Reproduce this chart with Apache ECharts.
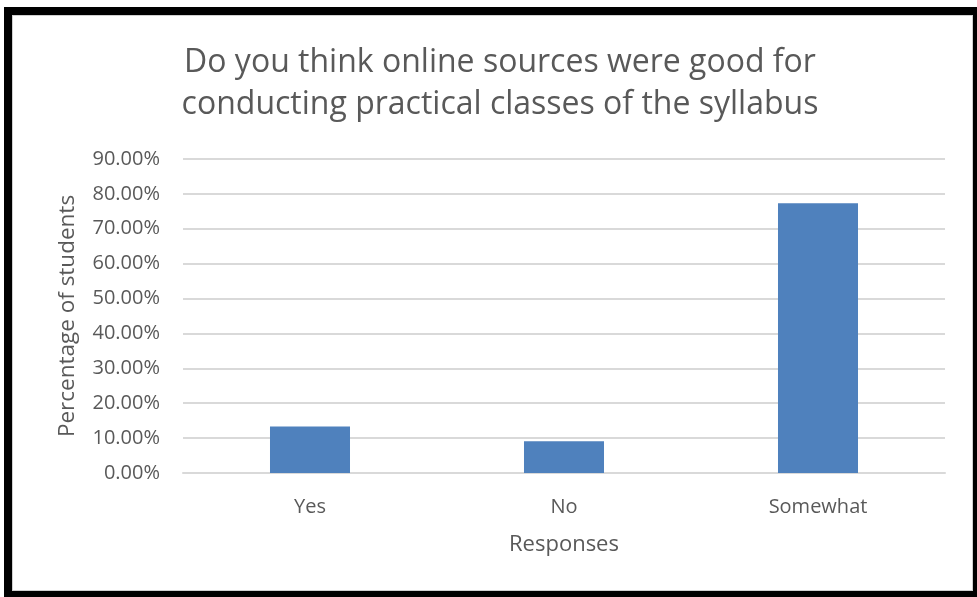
<!DOCTYPE html>
<html>
<head>
<meta charset="utf-8">
<script src="https://cdn.jsdelivr.net/npm/echarts@6/dist/echarts.min.js"></script>
<style>
html,body{margin:0;padding:0;background:#fff;width:977px;height:597px;overflow:hidden;}
#chart{position:absolute;left:0;top:0;width:977px;height:597px;}
#frame{position:absolute;left:4px;top:7px;width:973px;height:590px;box-sizing:border-box;
border-left:8px solid #000;border-top:8px solid #000;border-right:4px solid #000;border-bottom:6px solid #000;pointer-events:none;}
#inner{position:absolute;left:0;top:0;right:0;bottom:0;border:1px solid #d0d0d0;}
</style>
</head>
<body>
<div id="chart"></div>
<div id="frame"><div id="inner"></div></div>
<script>
const titleLines = ['Do you think online sources were good for', 'conducting practical classes of the syllabus'];
const categories = ['Yes', 'No', 'Somewhat'];
const values = [13.3, 9.1, 77.3];
const yTicks = [0, 10, 20, 30, 40, 50, 60, 70, 80, 90];
const xAxisTitle = 'Responses';
const yAxisTitle = 'Percentage of students';

const font = 'Open Sans';
const chart = echarts.init(document.getElementById('chart'), null, {renderer: 'canvas'});
chart.setOption({
  animation: false,
  backgroundColor: 'transparent',
  title: {
    text: titleLines.join('\n'),
    left: 495, top: 37, textAlign: 'center',
    textStyle: {fontFamily: font, fontSize: 32, fontWeight: 'normal', color: '#595959', lineHeight: 42}
  },
  grid: {left: 183, right: 32, top: 159, bottom: 124, containLabel: false},
  xAxis: {
    type: 'category', data: categories,
    name: xAxisTitle, nameLocation: 'middle', nameGap: 61,
    nameTextStyle: {fontFamily: font, fontSize: 22, color: '#595959'},
    axisLine: {show: true, lineStyle: {color: '#d9d9d9', width: 2}},
    axisTick: {show: false},
    axisLabel: {fontFamily: font, fontSize: 20, color: '#595959', margin: 24}
  },
  yAxis: {
    type: 'value', min: yTicks[0], max: yTicks[yTicks.length - 1], interval: 10,
    name: yAxisTitle, nameLocation: 'middle', nameGap: 104, nameRotate: 90,
    nameTextStyle: {fontFamily: font, fontSize: 22.5, color: '#595959'},
    axisLine: {show: false}, axisTick: {show: false},
    axisLabel: {fontFamily: font, fontSize: 20, color: '#595959', margin: 23,
      formatter: v => v.toFixed(2) + '%'},
    splitLine: {lineStyle: {color: '#d9d9d9', width: 2}}
  },
  series: [{
    type: 'bar', data: values, barWidth: '31.5%',
    itemStyle: {color: '#4f81bd'}
  }]
});
</script>
</body>
</html>
